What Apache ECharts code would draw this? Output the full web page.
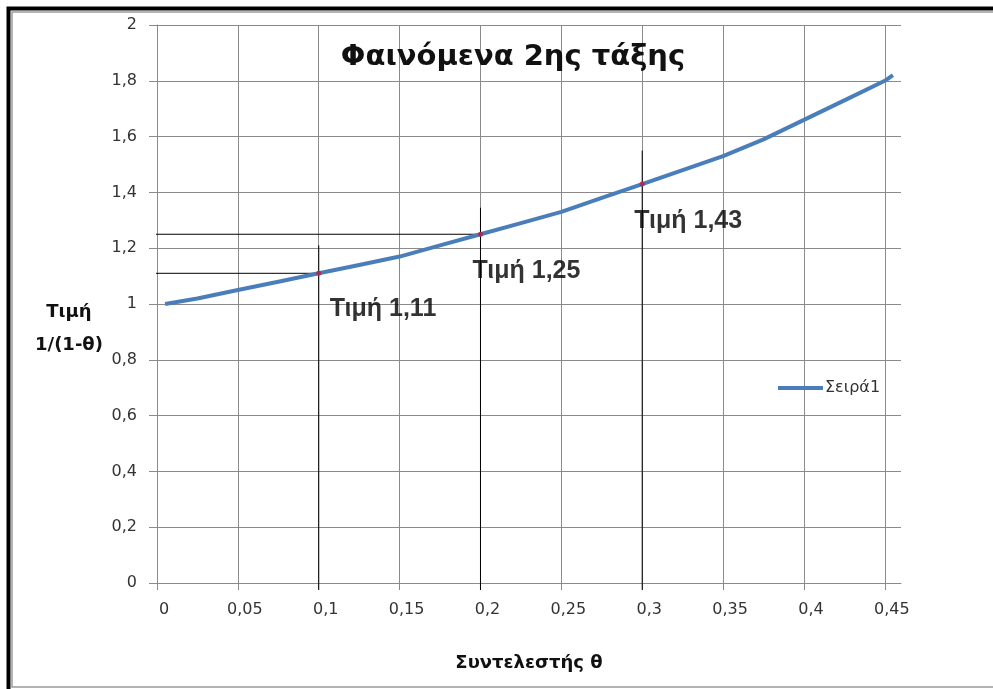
<!DOCTYPE html>
<html>
<head>
<meta charset="utf-8">
<style>
  html, body { margin: 0; padding: 0; background: #fff; }
  #chart { width: 993px; height: 689px; }
</style>
<script src="https://cdn.jsdelivr.net/npm/echarts@6/dist/echarts.min.js"></script>
</head>
<body>
<div id="chart"></div>
<script>
// Coefficient θ and the value 1/(1-θ) along the curve
const thetaValues = [0.005, 0.025, 0.05, 0.075, 0.1, 0.125, 0.15, 0.175, 0.2, 0.225, 0.25, 0.275, 0.3, 0.325, 0.35, 0.375, 0.4, 0.425, 0.45, 0.455];
const seriesValues = [1.00, 1.02, 1.05, 1.08, 1.11, 1.14, 1.17, 1.21, 1.25, 1.29, 1.33, 1.38, 1.43, 1.48, 1.53, 1.59, 1.66, 1.73, 1.80, 1.82];

// Highlighted points with their value labels and guide lines
const markedTheta = [0.1, 0.2, 0.3];
const markedValues = [1.11, 1.25, 1.43];
const guideTops = [1.21, 1.345, 1.55];
const horizontalGuides = [1.11, 1.25];

// Axis ticks
const xTicks = [0, 0.05, 0.1, 0.15, 0.2, 0.25, 0.3, 0.35, 0.4, 0.45];
const yTicks = [0, 0.2, 0.4, 0.6, 0.8, 1, 1.2, 1.4, 1.6, 1.8, 2];

const seriesName = 'Σειρά1';
const titleText = 'Φαινόμενα 2ης τάξης';
const xName = 'Συντελεστής θ';
const yNameLines = ['Τιμή', '1/(1-θ)'];

const fmt = v => String(+(+v).toFixed(2)).replace('.', ',');

const gridColor = '#8a8a8a';
const labelColor = '#333';

const lineData = thetaValues.map((t, i) => [t, seriesValues[i]]);
const pointData = markedTheta.map((t, i) => [t, markedValues[i]]);
const labelOffsets = [[11, 36], [-8, 37], [-8, 37]];

const guideSeries = [];
markedTheta.forEach((t, i) => {
  guideSeries.push({
    type: 'line', silent: true, clip: false, symbol: 'none',
    lineStyle: { color: '#000', width: 1 },
    data: [[t, guideTops[i]], [t, -0.025]],
    z: 3
  });
});
horizontalGuides.forEach((v, i) => {
  guideSeries.push({
    type: 'line', silent: true, clip: false, symbol: 'none',
    lineStyle: { color: '#000', width: 1 },
    data: [[-0.009, v], [markedTheta[i], v]],
    z: 3
  });
});

const chart = echarts.init(document.getElementById('chart'), null, { renderer: 'canvas' });
chart.setOption({
  animation: false,
  backgroundColor: '#fff',
  title: {
    text: titleText,
    left: 508, top: 38,
    textAlign: 'center',
    textStyle: { fontFamily: 'DejaVu Sans', fontSize: 29, fontWeight: 'bold', color: '#111' }
  },
  legend: {
    data: [{ name: seriesName, icon: 'rect' }],
    left: 773, top: 375,
    itemWidth: 45, itemHeight: 4, itemGap: 4,
    textStyle: { fontFamily: 'DejaVu Sans', fontSize: 16, color: '#333', padding: [0, 0, 0, -3] }
  },
  grid: { left: 157, right: 92, top: 25, bottom: 106, containLabel: false },
  xAxis: {
    type: 'value', min: 0, max: 0.46, interval: 0.05,
    name: xName, nameLocation: 'middle', nameGap: 80,
    nameTextStyle: { fontFamily: 'DejaVu Sans', fontSize: 18, fontWeight: 'bold', color: '#111', verticalAlign: 'middle' },
    axisLine: { show: true, lineStyle: { color: gridColor, width: 1 } },
    axisTick: { show: true, length: 7, lineStyle: { color: gridColor }, customValues: xTicks },
    splitLine: { show: true, lineStyle: { color: gridColor, width: 1 } },
    axisLabel: {
      customValues: xTicks, formatter: fmt, margin: 19,
      fontFamily: 'DejaVu Sans', fontSize: 16, color: labelColor,
      padding: [0, 0, 0, 14]
    }
  },
  yAxis: {
    type: 'value', min: 0, max: 2, interval: 0.2,
    axisLine: { show: true, lineStyle: { color: gridColor, width: 1 } },
    axisTick: { show: true, length: 8, lineStyle: { color: gridColor } },
    splitLine: { show: true, lineStyle: { color: gridColor, width: 1 } },
    axisLabel: { formatter: fmt, margin: 20, fontFamily: 'DejaVu Sans', fontSize: 16, color: labelColor }
  },
  series: [
    ...guideSeries,
    {
      name: seriesName, type: 'line', symbol: 'none', smooth: false,
      lineStyle: { color: '#4a7ebb', width: 4 },
      itemStyle: { color: '#4a7ebb' },
      data: lineData, z: 4
    },
    {
      type: 'scatter', symbolSize: 5, silent: true,
      itemStyle: { color: '#c01a3a' },
      data: pointData.map((p, i) => ({
        value: p,
        label: {
          show: true, position: 'inside',
          formatter: 'Τιμή ' + fmt(p[1]),
          offset: labelOffsets[i],
          align: 'left',
          fontFamily: 'Liberation Sans', fontSize: 25, fontWeight: 'bold',
          color: '#000', textBorderWidth: 0
        }
      })),
      z: 5
    }
  ],
  graphic: [
    { type: 'rect', shape: { x: 12, y: 12, width: 1000, height: 675 }, style: { fill: null, stroke: '#9a9a9a', lineWidth: 1.5 }, silent: true },
    { type: 'polyline', shape: { points: [[8.5, 700], [8.5, 8.5], [1000, 8.5]] }, style: { fill: null, stroke: '#000', lineWidth: 4 }, silent: true },
    { type: 'text', x: 69, y: 312, style: { text: yNameLines[0], align: 'center', verticalAlign: 'middle', font: 'bold 18px "DejaVu Sans"', fill: '#111' }, silent: true },
    { type: 'text', x: 69, y: 345, style: { text: yNameLines[1], align: 'center', verticalAlign: 'middle', font: 'bold 18px "DejaVu Sans"', fill: '#111' }, silent: true }
  ]
});
</script>
</body>
</html>
